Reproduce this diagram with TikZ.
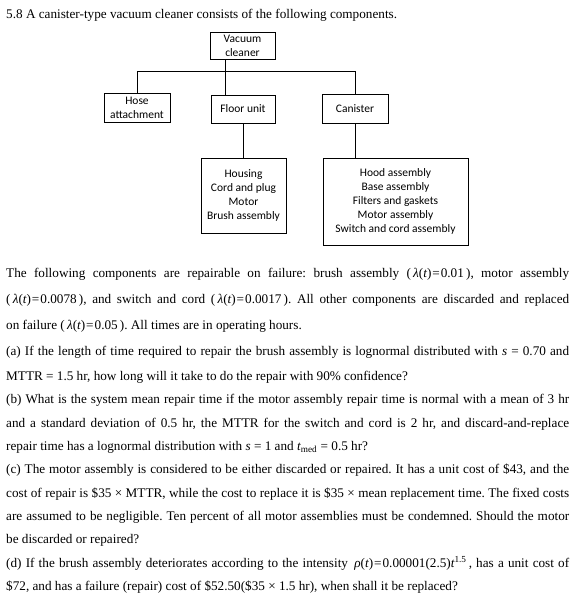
\documentclass[tikz,border=0pt]{standalone}
\usepackage{fontspec}
\setmainfont{Liberation Serif}
\newfontfamily\boxfont{Carlito}
\usetikzlibrary{positioning}
\frenchspacing

\newcommand{\lam}{{\itshape λ}}
\newcommand{\tvar}{{\itshape t}}
\newcommand{\eqq}{\kern1pt=\kern1pt}

\begin{document}
\begin{tikzpicture}[x=1pt,y=-1pt,
  box/.style={draw, thin, inner sep=0pt, outer sep=0pt, align=center,
    font=\boxfont\fontsize{11.5}{14.2}\selectfont},
  txt/.style={anchor=base west, inner sep=0pt, font=\fontsize{13.2}{16}\selectfont}]

\useasboundingbox (0,0) rectangle (584,597);

\node[txt] (title) at (6,19) {5.8 A canister-type vacuum cleaner consists of the following components.};

% component tree
\node[box, minimum width=65, minimum height=27] (vac) at (242.5,45.5) {Vacuum\\cleaner};
\node[box, minimum width=66, minimum height=29] (hose) at (137,107.5) {Hose\\attachment};
\node[box, minimum width=64, minimum height=28] (floor) at (243,109) {Floor unit};
\node[box, minimum width=66, minimum height=29] (can) at (355,108.5) {Canister};
\node[box, minimum width=85, minimum height=75] (hous) at (243.5,195.5) {Housing\\Cord and plug\\Motor\\Brush assembly};
\node[box, minimum width=145, minimum height=87] (hood) at (395.5,201.5) {Hood assembly\\Base assembly\\Filters and gaskets\\Motor assembly\\Switch and cord assembly};

\coordinate (bus) at (0,71.5); % level of the branch line
\draw (hose.north) -- (hose.north |- bus) -- (can.north |- bus) -- (can.north);
\draw ([xshift=-17.5]vac.south) -- ([xshift=-17.5]vac.south |- floor.north); % trunk
\draw (floor.south) -- (floor.south |- hous.north);
\draw (can.south) -- (can.south |- hood.north);

% problem text
\node[txt] (l1) at (6,277) {\hbox to 563pt{The following components are repairable on failure: brush assembly (\,\lam(\tvar)\eqq0.01\,), motor assembly}};
\node[txt] (l2) at (6,303) {\hbox to 563pt{(\,\lam(\tvar)\eqq0.0078\,), and switch and cord (\,\lam(\tvar)\eqq0.0017\,). All other components are discarded and replaced}};
\node[txt] (l3) at (6,329) {on failure (\,\lam(\tvar)\eqq0.05\,). All times are in operating hours.};
\node[txt] (l4) at (6,355) {\hbox to 563pt{(a) If the length of time required to repair the brush assembly is lognormal distributed with \textit{s} = 0.70 and}};
\node[txt] (l5) at (6,380) {MTTR = 1.5 hr, how long will it take to do the repair with 90\% confidence?};
\node[txt] (l6) at (6,403) {\hbox to 563pt{(b) What is the system mean repair time if the motor assembly repair time is normal with a mean of 3 hr}};
\node[txt] (l7) at (6,427) {\hbox to 563pt{and a standard deviation of 0.5 hr, the MTTR for the switch and cord is 2 hr, and discard-and-replace}};
\node[txt] (l8) at (6,450) {repair time has a lognormal distribution with \textit{s} = 1 and \textit{t}\textsubscript{med} = 0.5 hr?};
\node[txt] (l9) at (6,473) {\hbox to 563pt{(c) The motor assembly is considered to be either discarded or repaired. It has a unit cost of \$43, and the}};
\node[txt] (l10) at (6,497) {\hbox to 563pt{cost of repair is \$35 × MTTR, while the cost to replace it is \$35 × mean replacement time. The fixed costs}};
\node[txt] (l11) at (6,520) {\hbox to 563pt{are assumed to be negligible. Ten percent of all motor assemblies must be condemned. Should the motor}};
\node[txt] (l12) at (6,543) {be discarded or repaired?};
\node[txt] (l13) at (6,567) {\hbox to 563pt{(d) If the brush assembly deteriorates according to the intensity \,{\itshape ρ}(\tvar)\eqq0.00001(2.5)\tvar\textsuperscript{1.5}\,, has a unit cost of}};
\node[txt] (l14) at (6,590) {\$72, and has a failure (repair) cost of \$52.50(\$35 × 1.5 hr), when shall it be replaced?};

\end{tikzpicture}
\end{document}
